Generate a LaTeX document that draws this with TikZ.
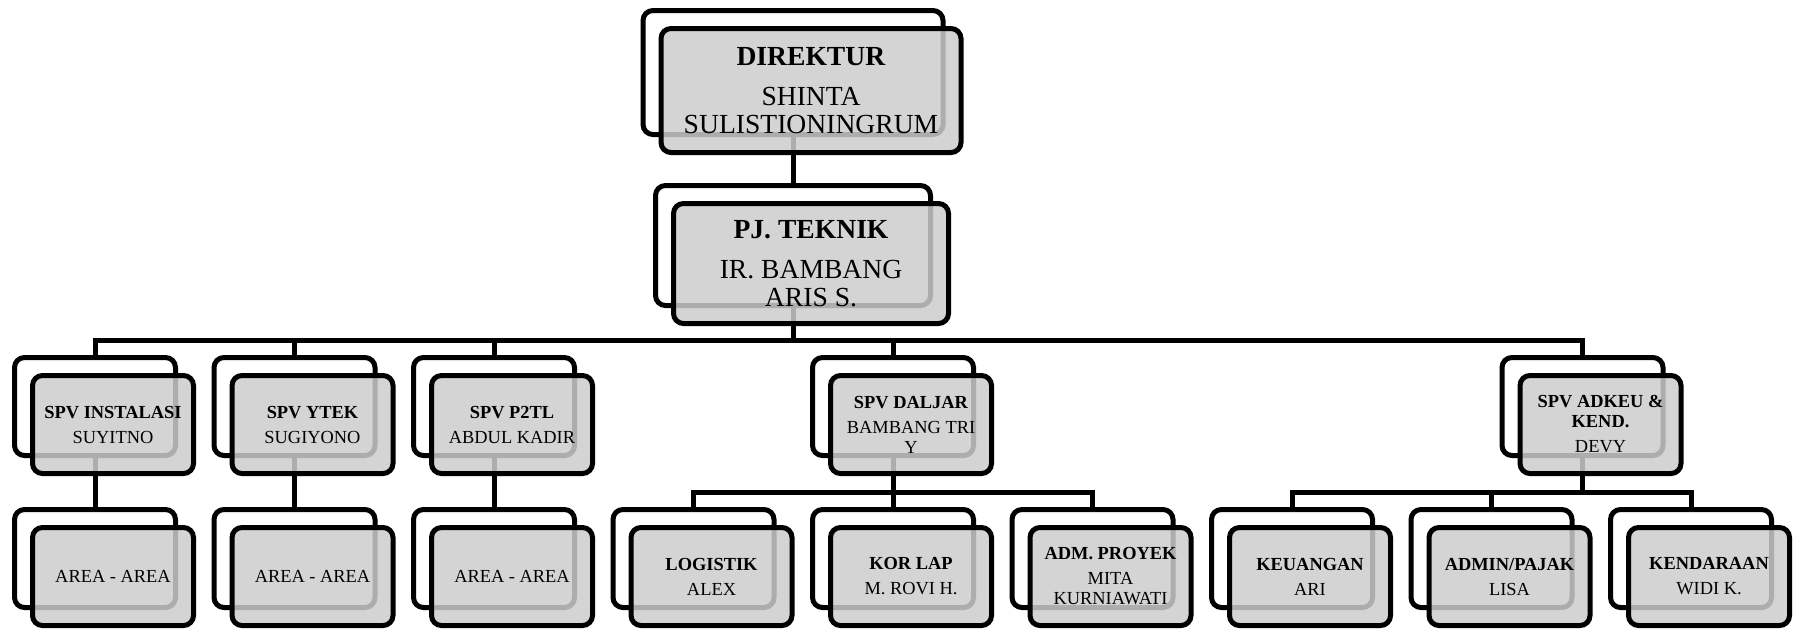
\documentclass[tikz,border=0pt]{standalone}
\usepackage{fontspec}
\setmainfont{Liberation Serif}
\newcommand{\headfont}{\fontsize{13.8}{14}\selectfont}
\newcommand{\unitfont}{\fontsize{9.2}{10}\selectfont}

\begin{document}
\begin{tikzpicture}[x=0.5pt,y=-0.5pt,
    back/.style={draw,line width=2.5pt,rounded corners=5pt,minimum width=80.5pt,minimum height=49pt,inner sep=0pt},
    front/.style={back,fill=black!20,fill opacity=0.85,text opacity=1,align=center,font=\unitfont},
    link/.style={line width=2.5pt}]
  \useasboundingbox (0,0) rectangle (1802,629);
  % back boxes
  \node[back,minimum width=150pt,minimum height=62pt] (dir-b) at (793,72.5) {};
  \node[back,minimum width=137.5pt,minimum height=60pt] (pj-b) at (793,245.5) {};
  \foreach \n/\x in {inst/95,ytek/294.5,p2tl/494,daljar/893,adkeu/1582.5}
    \node[back] (\n-b) at (\x,406.5) {};
  \foreach \n [count=\i from 0] in {area1,area2,area3,logistik,korlap,admpro,keu,pajak,kend}
    \node[back] (\n-b) at (95+199.5*\i,558.5) {};
  % lines
  \coordinate (bus) at (793,340);
  \coordinate (dbus) at (893,492);
  \coordinate (kbus) at (1582.5,492);
  \draw[link] (dir-b.south) -- (pj-b.north);
  \draw[link] (pj-b.south) -- (bus);
  \foreach \n in {inst,ytek,p2tl,daljar,adkeu}
    \draw[link] (bus) -| (\n-b.north);
  \foreach \p/\c in {inst/area1,ytek/area2,p2tl/area3}
    \draw[link] (\p-b.south) -- (\c-b.north);
  \draw[link] (daljar-b.south) -- (dbus);
  \foreach \c in {logistik,korlap,admpro}
    \draw[link] (dbus) -| (\c-b.north);
  \draw[link] (adkeu-b.south) -- (kbus);
  \foreach \c in {keu,pajak,kend}
    \draw[link] (kbus) -| (\c-b.north);
  % front boxes
  \node[front,minimum width=150pt,minimum height=62pt,font=\headfont] (dir) at (811,90.5)
    {\textbf{DIREKTUR}\\[6pt]SHINTA\\SULISTIONINGRUM};
  \node[front,minimum width=137.5pt,minimum height=60pt,font=\headfont] (pj) at (811,263.5)
    {\textbf{PJ. TEKNIK}\\[6pt]IR. BAMBANG\\ARIS S.};
  \node[front] (inst) at (113,424.5) {\textbf{SPV INSTALASI}\\[2.5pt]SUYITNO};
  \node[front] (ytek) at (312.5,424.5) {\textbf{SPV YTEK}\\[2.5pt]SUGIYONO};
  \node[front] (p2tl) at (512,424.5) {\textbf{SPV P2TL}\\[2.5pt]ABDUL KADIR};
  \node[front] (daljar) at (911,424.5) {\textbf{SPV DALJAR}\\[2.5pt]BAMBANG TRI\\Y};
  \node[front] (adkeu) at (1600.5,424.5) {\textbf{SPV ADKEU \&}\\\textbf{KEND.}\\[2.5pt]DEVY};
  \node[front] (area1) at (113,576.5) {AREA - AREA};
  \node[front] (area2) at (312.5,576.5) {AREA - AREA};
  \node[front] (area3) at (512,576.5) {AREA - AREA};
  \node[front] (logistik) at (711.5,576.5) {\textbf{LOGISTIK}\\[2.5pt]ALEX};
  \node[front] (korlap) at (911,576.5) {\textbf{KOR LAP}\\[2.5pt]M. ROVI H.};
  \node[front] (admpro) at (1110.5,576.5) {\textbf{ADM. PROYEK}\\[2.5pt]MITA\\KURNIAWATI};
  \node[front] (keu) at (1310,576.5) {\textbf{KEUANGAN}\\[2.5pt]ARI};
  \node[front] (pajak) at (1509.5,576.5) {\textbf{ADMIN/PAJAK}\\[2.5pt]LISA};
  \node[front] (kend) at (1709,576.5) {\textbf{KENDARAAN}\\[2.5pt]WIDI K.};
\end{tikzpicture}
\end{document}
